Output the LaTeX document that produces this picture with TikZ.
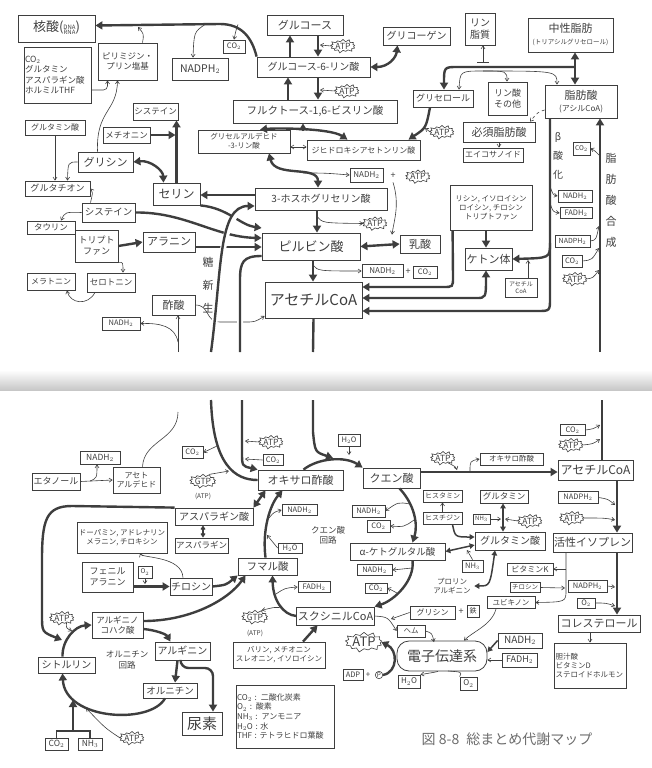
\documentclass[tikz,border=0pt]{standalone}
\usepackage{fontspec}
\setmainfont{Noto Sans CJK JP}
\usepackage{xcolor}
\usepackage{tikz}
\usetikzlibrary{arrows.meta, shapes.symbols}

\definecolor{inkc}{RGB}{62,62,62}

\tikzset{
  lbl/.style={text=inkc},
  bx/.style={draw=inkc, text=inkc, line width=0.8pt, inner sep=1pt, align=center},
  sz/.style 2 args={minimum width=#1pt, minimum height=#2pt},
  fs/.style={font={\fontsize{#1}{#1}\selectfont\baselineskip=1.2\baselineskip}},
  burst/.style={starburst, draw=inkc, text=inkc, line width=0.6pt, starburst points=13,
    starburst point height=3pt, inner sep=0pt, font=\fontsize{8.5}{9}\selectfont},
  trunk/.style={draw=inkc, line width=2.4pt},
  flow/.style={trunk, -{Triangle[length=7pt,width=8pt]}},
  flowb/.style={trunk, {Triangle[length=7pt,width=8pt]}-{Triangle[length=7pt,width=8pt]}},
  flowm/.style={draw=inkc, line width=1.5pt, -{Triangle[length=5pt,width=5.5pt]}},
  flowmb/.style={draw=inkc, line width=1.5pt, {Triangle[length=5pt,width=5.5pt]}-{Triangle[length=5pt,width=5.5pt]}},
  thn/.style={draw=inkc, line width=0.6pt, -{Straight Barb[length=3pt,width=4pt]}},
  thnb/.style={draw=inkc, line width=0.6pt, {Straight Barb[length=3pt,width=4pt]}-{Straight Barb[length=3pt,width=4pt]}},
  gap/.style={preaction={draw=white, line width=6pt, -}}
}

\begin{document}
\begin{tikzpicture}[x=1pt, y=-1pt]
  \useasboundingbox (0,0) rectangle (652,768);

  % Page gutter
  \shade[top color=white, bottom color=black!22] (0,370) rectangle (652,390);

  % ---------------- upper page ----------------
  % Nucleotides
  \node[bx, sz={77}{27}] (nucleic) at (56.5,28.5) {{\fontsize{13}{13}\selectfont 核酸(}{\fontsize{6}{7}\selectfont\begin{tabular}{@{}c@{}}DNA\\[-2pt]RNA\end{tabular}}{\fontsize{13}{13}\selectfont )}};
  \node[bx, sz={59}{37}, fs=8.5] (bases) at (127.5,61.5) {ピリミジン・\\プリン塩基};
  \node[bx, text width=65pt, minimum height=56pt, align=left, fs=8.5] (donors) at (57.5,75) {CO$_2$\\グルタミン\\アスパラギン酸\\ホルミルTHF};
  \node[bx, sz={56}{22}, fs=10.5] (nadphA) at (200,69) {NADPH$_2$};
  \node[bx, sz={22}{13}, fs=7.5] (co2A) at (234,46.5) {CO$_2$};

  % Glycolysis
  \node[bx, sz={76}{20}, fs=11] (glc) at (305,25) {グルコース};
  \node[bx, sz={113}{20}, fs=10] (g6p) at (313.5,67) {グルコース-6-リン酸};
  \node[burst] (atpA) at (343,46) {ATP};
  \node[bx, sz={67}{18}, fs=10] (glycogen) at (416.5,36) {グリコーゲン};
  \node[bx, sz={164}{23}, fs=10.5] (f16bp) at (315,111.5) {フルクトース-1,6-ビスリン酸};
  \node[burst] (atpB) at (347,91) {ATP};
  \node[bx, sz={92}{23}, fs=7.5] (gap3) at (244,141.5) {グリセルアルデヒド\\-3-リン酸};
  \node[bx, sz={113}{20}, fs=8] (dhap) at (363.5,150) {ジヒドロキシアセトンリン酸};
  \node[bx, sz={33}{14}, fs=8] (nadhA) at (366.5,175) {NADH$_2$};
  \node[lbl, fs=9] (plusA) at (393,176) {+};
  \node[burst] (atpC) at (418,176.5) {ATP};
  \node[bx, sz={132}{22}, fs=10] (pg3) at (321,199) {3-ホスホグリセリン酸};
  \node[burst] (atpD) at (375,223.5) {ATP};
  \node[bx, sz={98}{27}, fs=13] (pyr) at (311,246.5) {ピルビン酸};
  \node[bx, sz={40}{18}, fs=11] (lac) at (420,244) {乳酸};
  \node[bx, sz={41}{13}, fs=8] (nadhB) at (382.5,271) {NADH$_2$};
  \node[lbl, fs=9] (plusB) at (408,272) {+};
  \node[bx, sz={24}{12}, fs=7.5] (co2B) at (425,272.5) {CO$_2$};
  \node[bx, sz={97}{36}, fs=15] (acoaA) at (313.5,300) {アセチルCoA};

  % Amino acids
  \node[bx, sz={47}{22}, fs=12] (ser) at (176.5,194) {セリン};
  \node[bx, sz={45}{17}, fs=8.5] (cysA) at (155.5,111.5) {システイン};
  \node[bx, sz={47}{16}, fs=8.5] (met) at (126.5,135) {メチオニン};
  \node[bx, sz={60}{15}, fs=8] (gluA) at (55,127.5) {グルタミン酸};
  \node[bx, sz={55}{20}, fs=11] (gly) at (105.5,162) {グリシン};
  \node[bx, sz={65}{15}, fs=9] (gsh) at (57.5,188.5) {グルタチオン};
  \node[bx, sz={53}{19}, fs=9.5] (cysB) at (108.5,212.5) {システイン};
  \node[bx, sz={48}{13}, fs=8.5] (tau) at (51,227.5) {タウリン};
  \node[bx, sz={43}{32}, fs=9] (trp) at (96.5,246) {トリプト\\ファン};
  \node[bx, sz={52}{20}, fs=11] (ala) at (169,242) {アラニン};
  \node[bx, sz={48}{19}, fs=8.5] (sero) at (111,282.5) {セロトニン};
  \node[bx, sz={48}{17}, fs=8] (mela) at (51,281.5) {メラトニン};
  \node[bx, sz={43}{20}, fs=11] (aceta) at (173.5,305) {酢酸};
  \node[bx, sz={38}{13}, fs=7.5] (nadhC) at (121,323.5) {NADH$_2$};
  \node[lbl, font=\fontsize{11}{23}\selectfont, align=center] (gng) at (208,285) {糖\\新\\生};

  % Lipids
  \node[bx, sz={60}{17}, fs=9] (glyc) at (443,98.5) {グリセロール};
  \node[burst] (atpE) at (442,132) {ATP};
  \node[bx, sz={30}{32}, fs=10] (pl) at (480,29) {リン\\脂質};
  \node[bx, sz={85}{34}] (tg) at (570.5,35) {{\fontsize{11}{13}\selectfont 中性脂肪}\\{\fontsize{6.5}{8}\selectfont (トリアシルグリセロール)}};
  \node[bx, sz={39}{33}, fs=9] (pi) at (507.5,98.5) {リン酸\\その他};
  \node[bx, sz={72}{33}] (fa) at (581,101.5) {{\fontsize{11}{13}\selectfont 脂肪酸}\\{\fontsize{8}{10}\selectfont (アシルCoA)}};
  \node[bx, sz={72}{20}, fs=11] (efa) at (499,132) {必須脂肪酸};
  \node[bx, sz={60}{14}, fs=8] (eico) at (493,155) {エイコサノイド};
  \node[bx, sz={17}{13}, fs=6.5] (co2C) at (581.5,148.5) {CO$_2$};
  \node[lbl, font=\fontsize{10}{19}\selectfont, align=center] (betaox) at (558,156) {β\\酸\\化};
  \node[lbl, font=\fontsize{11}{21}\selectfont, align=center] (fastext) at (611,200) {脂\\肪\\酸\\合\\成};
  \node[bx, sz={34}{12}, fs=7.5] (nadhD) at (575,196) {NADH$_2$};
  \node[bx, sz={32}{11}, fs=7.5] (fadhA) at (576,213) {FADH$_2$};
  \node[bx, sz={35}{12}, fs=7] (nadphB) at (572.5,241) {NADPH$_2$};
  \node[bx, sz={20}{12}, fs=7.5] (co2D) at (572,261) {CO$_2$};
  \node[burst] (atpF) at (575,279) {ATP};
  \node[bx, sz={82}{45}, fs=7.5] (aa) at (491,207.5) {リシン, イソロイシン\\ロイシン, チロシン\\トリプトファン};
  \node[bx, sz={47}{22}, fs=11] (ket) at (488.5,259) {ケトン体};
  \node[bx, sz={32}{19}, fs=6] (acoaB) at (521,287.5) {アセチル\\CoA};

  % Pentose phosphate and nucleotides
  \draw[flow] (g6p.north west) .. controls (252,38) and (242,24) .. (220,24) -- ([yshift=3pt]nucleic.east);
  \draw[thn] (238,24.5) .. controls (236,30) .. (co2A.north);
  \draw[thn] (205,24.5) .. controls (194,32) .. ([xshift=-7pt]nadphA.north);
  \draw[thn] ([xshift=15pt]bases.north) .. controls (144,34) .. (138,27);
  \draw[thn, rounded corners=4pt] (donors.east |- 0,90) -| ([xshift=-20pt]bases.south);
  \draw[thn] ([xshift=-8pt]gly.north) .. controls (96,110) and (117,112) .. ([xshift=-10pt]bases.south);

  % Amino acid links
  \draw[thn] (gluA.south) -- (gluA.south |- gsh.north);
  \draw[thn] (gly.west) .. controls (68,162) .. ([xshift=10pt]gsh.north);
  \draw[flow] (ser.north) -- (ser.north |- cysA.south);
  \draw[flow] (met.east) -- ([xshift=-1pt]met.east -| ser.north);
  \draw[flowb] (gly.east) .. controls (150,160) and (163,170) .. ([xshift=-13pt]ser.north);
  \draw[flow] (pg3.west |- 0,195) -- (ser.east |- 0,195);
  \draw[thn] ([xshift=-18pt]cysB.north) .. controls (93,192) .. (gsh.east);
  \draw[thn] (cysB.west) .. controls (65,212) .. ([xshift=10pt]tau.north);
  \draw[flow] (trp.east) -- (ala.west);
  \draw[thn] (trp.south east) .. controls (123,262) .. ([xshift=12pt]sero.north);
  \draw[thn] ([xshift=-16pt]sero.south) .. controls (88,306) and (70,304) .. ([xshift=16pt]mela.south);
  \draw[flow] (ser.south east) .. controls (228,208) and (240,225) .. (pyr.west |- 0,228);
  \draw[flow] (cysB.east) .. controls (185,212) and (215,237) .. (pyr.west |- 0,238);
  \draw[flow] (ala.east |- 0,247) -- (pyr.west |- 0,247);

  % Acetate and gluconeogenesis
  \draw[thn] (aceta.east) .. controls (210,305) and (205,322) .. (220,322) -- (245,322) .. controls (255,322) .. ([yshift=-16pt]acoaA.west);
  \draw[thn] (178,352) -- (aceta.south -| 178,0);
  \draw[thn] (178,342) .. controls (175,326) and (160,323) .. (nadhC.east);
  \coordinate (gngS) at (211,352);
  \coordinate (pcS) at (240,352);
  \draw[flow, gap] (gngS) .. controls (222,270) and (218,206) .. (pg3.west |- 0,206);
  \draw[trunk, gap] (pyr.west |- 0,256) .. controls (243,256) and (240,262) .. (240,280) -- (pcS);

  % Glycolysis steps
  \draw[flow] (g6p.north -| 290,0) -- (glc.south -| 290,0);
  \draw[flow] (glc.south -| 318,0) -- (g6p.north -| 318,0);
  \draw[thn] (atpA.west) -- (320,45);
  \draw[flow] (f16bp.north -| 288,0) -- (g6p.south -| 288,0);
  \draw[flow] (g6p.south -| 318,0) -- (f16bp.north -| 318,0);
  \draw[thn] (atpB.west) -- (320,90);
  \draw[flowb] (g6p.east) .. controls (388,67) and (396,58) .. ([xshift=-19pt]glycogen.south);
  \draw[flowb] ([xshift=16pt]gap3.north) .. controls (275,128) and (330,128) .. ([xshift=-16pt]dhap.north);
  \draw[flow] (303,131) -- (f16bp.south -| 303,0);
  \draw[thnb] (gap3.east |- 0,147) -- (dhap.west |- 0,147);
  \draw[flowb] ([xshift=25pt]gap3.south) .. controls (275,178) and (318,165) .. (pg3.north -| 318,0);
  \draw[thn] (303,173) .. controls (325,173) .. (nadhA.west);
  \draw[flow] ([xshift=-13pt]glyc.south) .. controls (426,128) .. ([xshift=45pt]dhap.north);
  \draw[thn] (atpE.west) -- (425,128);
  \draw[flow] (pg3.south -| 317,0) -- (pyr.north -| 317,0);
  \draw[thn] (317,216) .. controls (322,223) .. (atpD.west);
  \draw[flowb] (pyr.east) -- (lac.west);
  \draw[thn] (plusA.south) .. controls (400,205) and (394,220) .. ([xshift=-28pt]lac.north);
  \draw[flow] (pyr.south -| 313,0) -- (acoaA.north -| 313,0);
  \draw[thn] (313,265) .. controls (318,271) .. (nadhB.west);
  \coordinate (acS) at (313,352);
  \draw[trunk] (acoaA.south) -- (acS);

  % Lipid links
  \draw[flowb] (tg.south -| 575,0) -- (fa.north -| 575,0);
  \draw[flow] (575,67) -- (458,67) .. controls (444,67) .. (glyc.north -| 444,0);
  \draw[draw=inkc, line width=0.8pt] (477,62) -- (489,62);
  \draw[thn] (483,62) -- (pl.south -| 483,0);
  \draw[thn] (483,71) .. controls (460,71) .. (glyc.north -| 459,0);
  \draw[thn] (483,71) .. controls (507,71) .. (pi.north -| 507,0);
  \draw[thn] (483,71) .. controls (557,71) .. (fa.north -| 557,0);
  \draw[thn, dashed] (fa.west |- 0,110) .. controls (538,112) .. ([xshift=31pt]efa.north);
  \draw[thn] (efa.south) -- (efa.south |- eico.north);
  \draw[flow] (fa.south -| 550,0) -- (550,298) .. controls (550,311) .. (537,311) -- (acoaA.east |- 0,311);
  \draw[flow] (550,243) .. controls (550,258) .. (ket.east);
  \draw[thn] (acoaB.north -| 528,0) -- (528,260);
  \draw[thn] (550,186) .. controls (553,195) .. (nadhD.west);
  \draw[thn] (550,203) .. controls (553,212) .. (fadhA.west);
  \coordinate (fasS) at (600,352);
  \draw[flow] (fasS) -- (fa.south -| 600,0);
  \draw[thn] (600,156) .. controls (594,150) .. (co2C.east);
  \draw[thn] (nadphB.east) .. controls (596,240) .. (599,226);
  \draw[thn] (co2D.east) .. controls (592,260) .. (599,248);
  \draw[thn] (atpF.east) .. controls (593,278) .. (599,270);
  \draw[flow] (aa.south -| 486,0) -- (ket.north -| 486,0);
  \draw[flow] ([xshift=3pt]aa.south west) -- (453,277) .. controls (453,287) .. (443,287) -- (acoaA.east |- 0,287);
  \draw[flowb] (acoaA.east |- 0,298) -- (476,298) .. controls (486,298) .. (ket.south -| 486,0);

  % ---------------- lower page ----------------
  \node[bx, sz={48}{17}, fs=9] (etoh) at (56,481.5) {エタノール};
  \node[bx, sz={40}{13}, fs=8.5] (nadhE) at (100,457.5) {NADH$_2$};
  \node[bx, sz={47}{26}, fs=8] (acald) at (136.5,480) {アセト\\アルデヒド};
  \node[bx, sz={21}{12}, fs=7.5] (co2E) at (192.5,452.5) {CO$_2$};
  \node[burst] (gtpA) at (203,481) {GTP};
  \node[lbl, fs=6.5] (gtpAx) at (203,496) {(ATP)};
  \node[burst] (atpG) at (271,442) {ATP};
  \node[bx, sz={20}{11}, fs=7.5] (co2F) at (273,460) {CO$_2$};
  \node[bx, sz={22}{12}, fs=7.5] (h2oA) at (349,440) {H$_2$O};

  % TCA cycle
  \node[bx, sz={85}{20}, fs=11] (oaa) at (300.5,480) {オキサロ酢酸};
  \node[bx, sz={57}{20}, fs=11] (cit) at (391.5,478) {クエン酸};
  \node[bx, sz={95}{17}, fs=9.5] (akg) at (397.5,551.5) {α-ケトグルタル酸};
  \node[bx, sz={75}{18}, fs=11] (succ) at (335.5,616) {スクシニルCoA};
  \node[bx, sz={59}{17}, fs=10.5] (fum) at (267.5,566.5) {フマル酸};
  \node[lbl, fs=8.5, align=center] (tca) at (328,535) {クエン酸\\回路};
  \node[bx, sz={33}{12}, fs=7.5] (nadhI) at (368.5,511) {NADH$_2$};
  \node[bx, sz={23}{12}, fs=7.5] (co2I) at (378.5,526) {CO$_2$};
  \node[bx, sz={35}{11}, fs=7.5] (nadhF) at (374.5,570) {NADH$_2$};
  \node[bx, sz={22}{10}, fs=7.5] (co2H) at (376,588) {CO$_2$};
  \node[bx, sz={32}{11}, fs=7.5] (fadhC) at (314,587) {FADH$_2$};
  \node[burst] (gtpB) at (255,617) {GTP};
  \node[lbl, fs=6.5] (gtpBx) at (255,633) {(ATP)};
  \node[bx, sz={35}{11}, fs=7.5] (nadhH) at (299.5,510) {NADH$_2$};
  \node[bx, sz={24}{10}, fs=7.5] (h2oC) at (290,548) {H$_2$O};
  \node[bx, sz={92}{26}, fs=7.5] (bcaa) at (279,655) {バリン, メチオニン\\スレオニン, イソロイシン};

  % Right side
  \node[burst] (atpH) at (443,458) {ATP};
  \node[bx, sz={63}{12}, fs=7.5] (oaaB) at (511.5,459) {オキサロ酢酸};
  \node[bx, sz={75}{20}, fs=12] (acoaC) at (595.5,470) {アセチルCoA};
  \node[bx, sz={25}{11}, fs=7.5] (co2G) at (572.5,430) {CO$_2$};
  \node[burst] (atpI) at (571,445) {ATP};
  \node[bx, sz={40}{12}, fs=7.5] (nadphC) at (578,497.5) {NADPH$_2$};
  \node[burst] (atpJ) at (572,518) {ATP};
  \node[bx, sz={79}{19}, fs=11] (isop) at (592.5,542.5) {活性イソプレン};
  \node[bx, sz={39}{12}, fs=7] (hism) at (442.5,496) {ヒスタミン};
  \node[bx, sz={39}{12}, fs=7] (his) at (442.5,518) {ヒスチジン};
  \node[bx, sz={48}{13}, fs=8.5] (gln) at (504,496.5) {グルタミン};
  \node[bx, sz={17}{10}, fs=6] (nhA) at (481.5,519) {NH$_3$};
  \node[burst] (atpK) at (530,521) {ATP};
  \node[bx, sz={70}{18}, fs=10] (gluB) at (510,541) {グルタミン酸};
  \node[bx, sz={21}{12}, fs=7.5] (nhB) at (472.5,566) {NH$_3$};
  \node[bx, sz={46}{12}, fs=8] (vitk) at (530,569) {ビタミンK};
  \node[lbl, fs=7.5, align=center] (pro) at (452,586) {プロリン\\アルギニン};
  \node[bx, sz={30}{10}, fs=6.5] (tyrB) at (525,587.5) {チロシン};
  \node[bx, sz={48}{12}, fs=7.5] (ubq) at (511,602.5) {ユビキノン};
  \node[bx, sz={39}{12}, fs=7.5] (nadphD) at (587.5,586) {NADPH$_2$};
  \node[bx, sz={18}{10}, fs=7.5] (o2A) at (586,603) {O$_2$};
  \node[bx, sz={82}{17}, fs=11] (chol) at (599,623.5) {コレステロール};
  \node[bx, text width=70pt, minimum height=45pt, align=left, fs=7.5] (bile) at (590.5,665.5) {胆汁酸\\ビタミンD\\ステロイドホルモン};

  % Electron transport
  \node[bx, rounded corners=12pt, sz={90}{30}, fs=14] (etc) at (442,656) {電子伝達系};
  \node[bx, sz={44}{15}, fs=10] (nadhG) at (520,640.5) {NADH$_2$};
  \node[bx, sz={35}{14}, fs=9] (fadhB) at (519.5,660) {FADH$_2$};
  \node[bx, sz={17}{13}, fs=8] (o2B) at (468.5,683.5) {O$_2$};
  \node[bx, sz={22}{13}, fs=8] (h2oB) at (409,681.5) {H$_2$O};
  \node[burst, font=\fontsize{13}{13}\selectfont, starburst point height=4pt] (atpL) at (364,642) {ATP};
  \node[bx, sz={20}{11}, fs=7.5] (adp) at (353,675) {ADP};
  \node[lbl, fs=8] (plusC) at (368,675) {+};
  \node[draw=inkc, text=inkc, circle, inner sep=0.4pt, line width=0.6pt, fs=6.5] (pc) at (379,675) {P};
  \node[bx, sz={28}{12}, fs=7.5] (heme) at (411,631) {ヘム};
  \node[bx, sz={45}{13}, fs=8] (glyB) at (432.5,612.5) {グリシン};
  \node[lbl, fs=9] (plusD) at (461,612) {+};
  \node[bx, sz={12}{12}, fs=7] (fe) at (473,611) {鉄};

  % Left side and urea cycle
  \node[bx, sz={78}{17}, fs=10] (asp) at (214,516.5) {アスパラギン酸};
  \node[bx, sz={53}{15}, fs=8.5] (asn) at (201.5,545.5) {アスパラギン};
  \node[bx, sz={90}{31}, fs=7.5] (dopa) at (122,537.5) {ドーパミン, アドレナリン\\メラニン, チロキシン};
  \node[bx, sz={51}{30}, fs=9] (phe) at (107.5,577) {フェニル\\アラニン};
  \node[bx, sz={14}{12}, fs=6.5] (o2C) at (145,572) {O$_2$};
  \node[bx, sz={42}{17}, fs=10] (tyrA) at (191,586.5) {チロシン};
  \node[bx, sz={51}{26}, fs=8.5] (asuc) at (117.5,625) {アルギニノ\\コハク酸};
  \node[burst] (atpM) at (62,618) {ATP};
  \node[bx, sz={57}{16}, fs=10] (citr) at (66.5,665) {シトルリン};
  \node[bx, sz={55}{18}, fs=10] (arg) at (182.5,651) {アルギニン};
  \node[bx, sz={54}{15}, fs=9.5] (orn) at (170,690.5) {オルニチン};
  \node[bx, sz={40}{23}, fs=15] (urea) at (202,723.5) {尿素};
  \node[lbl, fs=8.5, align=center] (ornc) at (127,660) {オルニチン\\回路};
  \node[bx, sz={23}{12}, fs=8.5] (co2J) at (56.5,744) {CO$_2$};
  \node[bx, sz={24}{12}, fs=8.5] (nhC) at (90,744) {NH$_3$};
  \node[burst] (atpN) at (132,738) {ATP};

  % Legend and caption
  \node[bx, text width=96pt, minimum height=63pt, align=left, fs=8] (legend) at (285,716.5) {CO$_2$ : 二酸化炭素\\O$_2$ : 酸素\\NH$_3$ : アンモニア\\H$_2$O : 水\\THF : テトラヒドロ葉酸};
  \node[text=gray!85!black, font=\fontsize{14}{14}\selectfont] (caption) at (507,739) {図 8-8\enspace 総まとめ代謝マップ};

  % Ethanol
  \draw[thn] (etoh.east) -- (acald.west);
  \draw[thn] (90,481) .. controls (97,478) .. (nadhE.south -| 97,0);
  \draw[draw=inkc, line width=0.6pt] ([xshift=6pt]acald.north) .. controls (144,440) and (178,440) .. (178,412);

  % Into and around oxaloacetate
  \draw[trunk] (oaa.west) .. controls (235,480) and (213,465) .. (211,400);
  \draw[thn] (217,446) -- (co2E.east);
  \draw[thn] (gtpA.north east) -- (229,471);
  \draw[flow] (242,400) -- (242,452) .. controls (242,466) .. (oaa.north west);
  \draw[thn] (atpG.west) -- (245,441);
  \draw[thn] (co2F.west) -- (245,459);
  \draw[flow] (313,400) -- (313,432) .. controls (315,452) .. (333,458);
  \draw[flow] ([xshift=3pt]oaa.north) .. controls (318,458) and (345,456) .. (cit.north west);
  \draw[thn] (h2oA.south) -- (h2oA.south |- 0,455);
  \draw[flow] ([xshift=8pt]cit.south) .. controls (415,505) and (418,525) .. ([xshift=15pt]akg.north);
  \draw[thn] (410,504) .. controls (398,502) .. (nadhI.east);
  \draw[thn] (414,520) .. controls (404,527) .. (co2I.east);
  \draw[flow] ([xshift=15pt]akg.south) .. controls (415,580) and (395,600) .. (succ.north east);
  \draw[thn] (412,568) -- (nadhF.east);
  \draw[thn] (397,593) .. controls (392,590) .. (co2H.east);
  \draw[flow] (succ.west) .. controls (283,615) and (273,600) .. ([xshift=5pt]fum.south);
  \draw[thn] (283,608) .. controls (275,607) .. (gtpB.north east);
  \draw[thn] (276,594) .. controls (285,588) .. (fadhC.west);
  \draw[flow] ([xshift=24pt]bcaa.north) -- ([xshift=-18pt]succ.south);
  \draw[flow] ([xshift=-2pt]fum.north) .. controls (262,530) and (270,505) .. ([xshift=-18pt]oaa.south);
  \draw[thn] (h2oC.west) -- (267,535);
  \draw[thn] (269,518) .. controls (274,512) .. (nadhH.west);
  \draw[flowb] ([xshift=-35pt]oaa.south) -- (asp.north east);
  \draw[thnb, line width=1.2pt] (asp.south -| 203,0) -- (asn.north -| 203,0);

  % Aromatic amino acids and urea cycle
  \draw[flow] (asp.north west) -- (72,506) .. controls (46,506) and (42,520) .. (42,560) -- (42,615) .. controls (42,632) .. (62,640);
  \draw[thn] ([xshift=-8pt]tyrA.north) .. controls (182,556) and (142,558) .. ([xshift=18pt]dopa.south);
  \draw[flow] (phe.east |- tyrA.west) -- (tyrA.west);
  \draw[thn] (o2C.south) -- (145,584);
  \draw[flow] (tyrA.east) .. controls (226,585) .. (fum.south west);
  \draw[flow] ([yshift=4pt]asuc.east) .. controls (190,621) and (228,600) .. ([xshift=8pt]fum.south west);
  \draw[flow] ([xshift=-4pt]citr.north) .. controls (62,640) and (75,626) .. (asuc.west);
  \draw[thn] (atpM.south east) .. controls (66,628) .. (72,631);
  \draw[flow] ([yshift=-4pt]asuc.east) .. controls (155,630) and (166,634) .. ([xshift=-12pt]arg.north);
  \draw[flow] ([xshift=-5pt]arg.south) -- ([xshift=5pt]orn.north);
  \draw[flow] ([xshift=-5pt]orn.south) .. controls (150,725) and (65,720) .. ([xshift=-4pt]citr.south);
  \draw[flow, rounded corners=8pt] ([xshift=-2pt]arg.south) |- (213,668) -- (urea.north -| 213,0);
  \draw[draw=inkc, line width=1.2pt] (co2J.north) -- (co2J.north |- 0,731) -- (nhC.north |- 0,731) -- (nhC.north);
  \draw[flow] (73,731) -- (73,700);
  \draw[thn] (atpN.west) .. controls (105,728) .. (86,708);

  % Glutamate group
  \draw[flowmb] (gln.south -| 503,0) -- (gluB.north -| 503,0);
  \draw[thn] (nhA.east) -- (501,519);
  \draw[thn] (atpK.west) -- (505,519);
  \draw[thn] (his.north) -- (hism.south);
  \draw[flowm] ([xshift=10pt]his.south) .. controls (455,537) .. (gluB.west |- 0,537);
  \draw[flowmb] (akg.east) -- ([yshift=-4pt]gluB.west);
  \draw[thn] (nhB.north) -- (467,550);
  \draw[flowmb] (pro.east) .. controls (490,586) .. ([xshift=-15pt]gluB.south);

  % Acetyl-CoA, isoprene and sterols
  \draw[trunk] (acoaC.north -| 602,0) -- (602,400);
  \draw[thn] (co2G.east) .. controls (593,429) .. (600,425);
  \draw[thn] (atpI.east) .. controls (593,444) .. (600,439);
  \draw[flow] (cit.east |- 0,472) -- (acoaC.west |- 0,472);
  \draw[thn] (atpH.south east) .. controls (456,467) .. (457,470);
  \draw[thn] (470,471) .. controls (470,461) .. (oaaB.west);
  \draw[flow] (acoaC.south -| 617,0) -- (isop.north -| 617,0);
  \draw[thn] (nadphC.east) .. controls (608,499) .. (615,505);
  \draw[thn] (atpJ.east) .. controls (605,518) .. (615,520);
  \draw[flow] (isop.south -| 617,0) -- (chol.north -| 617,0);
  \draw[thn] (nadphD.east) -- (615,587);
  \draw[thn] (o2A.east) .. controls (606,603) .. (615,606);
  \draw[thn] (chol.south -| 590,0) -- (bile.north -| 590,0);
  \draw[thn] (566,552) -- (566,590) .. controls (566,602) .. (ubq.east);
  \draw[thn] (566,569) -- (vitk.east);
  \draw[thn] (tyrB.east) -- (565,588);

  % Electron transport links
  \draw[thn] ([xshift=-15pt]ubq.south) .. controls (492,625) and (472,632) .. ([xshift=22pt]etc.north);
  \draw[flowm] (nadhG.west) -- ([yshift=4pt]etc.east);
  \draw[thn] (fadhB.west) -- ([yshift=-4pt]etc.east);
  \draw[thn] ([xshift=-4pt]etc.south) .. controls (436,672) .. (h2oB.north east);
  \draw[draw=inkc, line width=0.6pt] (o2B.north west) .. controls (462,672) .. (448,671);
  \draw[flow] (pc.east) .. controls (398,672) and (398,650) .. (atpL.east);
  \draw[thn] (succ.east) .. controls (388,617) .. (heme.west);
  \draw[thn] (glyB.west) -- (391,619);
  \draw[thn] (heme.east) .. controls (432,633) .. (434,642);
\end{tikzpicture}
\end{document}
